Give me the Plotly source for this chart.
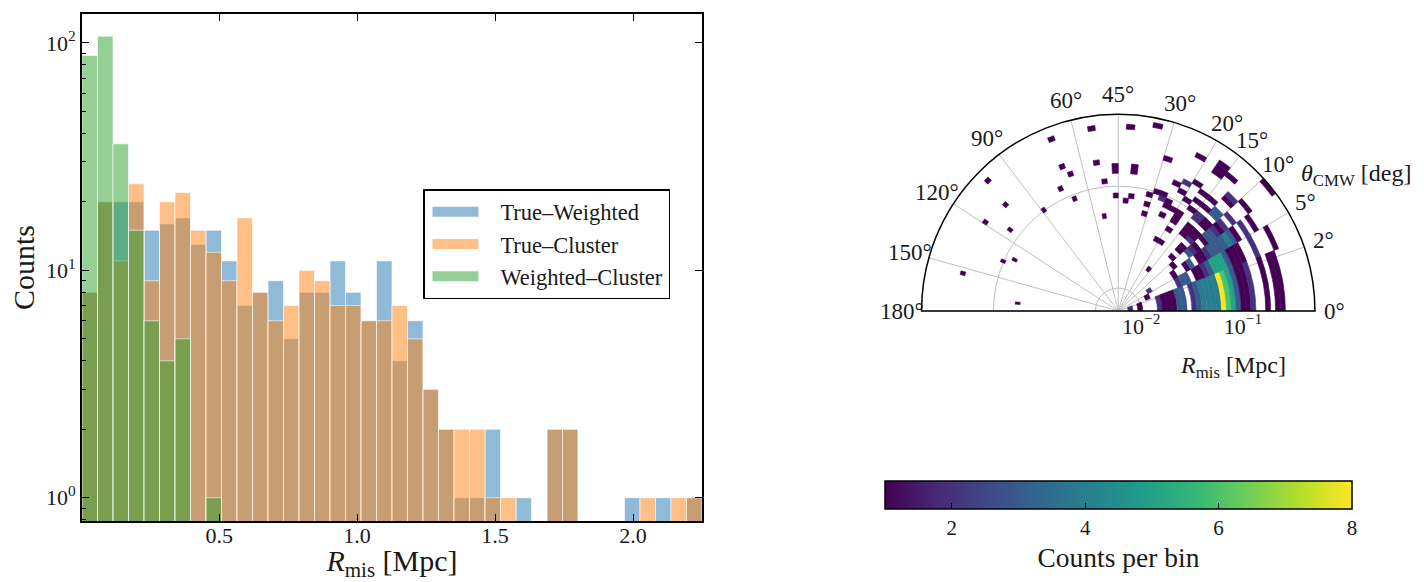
import numpy as np
import plotly.graph_objects as go

# ---------- histogram of miscentring offsets ----------
x_min, x_max, n_hist_bins = 0.003, 2.25, 40
true_weighted = [8,20,20,20,15,16,17,13,15,11,7,8,9,5,8,8,11,8,6,11,4,6,3,2,1,1,2,0,1,0,2,2,0,0,0,1,0,1,0,1]
true_cluster = [8,20,11,24,9,20,22,15,12,9,17,8,6,7,10,9,7,7,6,6,7,5,3,2,2,2,1,1,0,0,2,2,0,0,0,0,1,0,1,1]
weighted_cluster = [88,107,36,15,6,4,5,0,1,0,0,0,0,0,0,0,0,0,0,0,0,0,0,0,0,0,0,0,0,0,0,0,0,0,0,0,0,0,0,0]
series_names = ["True–Weighted", "True–Cluster", "Weighted–Cluster"]
series_colors = ["31,119,180", "255,127,14", "44,160,44"]
x_ticks = [0.5, 1.0, 1.5, 2.0]
y_ticks = [1, 10, 100]
y_tick_text = ["10<sup>0</sup>", "10<sup>1</sup>", "10<sup>2</sup>"]

# ---------- polar 2D histogram: theta bin (2.5 deg), R bin, count ----------
n_theta_bins = 72
n_R_bins = 40
logR_min, logR_max = -2.225, -0.294
theta_ticks = [0, 2, 5, 10, 15, 20, 30, 45, 60, 90, 120, 150, 180]
R_ticks = [0.01, 0.1]
R_tick_text = ["10<sup>−2</sup>", "10<sup>−1</sup>"]

band0_R = [2,4,8,9,10,11,12,13,15,16,17,18,19,20,21,22,23,24,25,26,27,30,32,33]
band0_c = [2,1,2,1,1,1,3,3,2,3,4,4,4,4,8,6,5,3,1,1,2,1,1,1]
band1_R = [6,13,14,15,17,18,19,20,21,22,23,24,25,26,27,30,34]
band1_c = [1,2,3,3,1,1,2,3,5,5,5,3,1,1,1,2,1]
band2_R = [7,13,16,17,19,20,21,22,23,24,25,26,27,28,30,32]
band2_c = [2,1,1,3,1,1,2,3,3,3,3,4,3,1,2,1]
band3_R = [14,18,19,20,22,23,24,25,26,27,29,33,39]
band3_c = [1,3,2,1,1,3,3,2,1,2,2,1,1]
band4_R = [15,17,18,20,21,22,24,25,27,28,31,32]
band4_c = [1,1,1,2,1,1,1,1,3,3,1,2]
band5_R = [20,21,22,24,25,27,29,35]
band5_c = [1,1,1,2,2,1,1,1]
band6_R = [10,25,27,29,34,35,36]
band6_c = [1,1,1,1,1,1,1]
band7_R = [16,19,21,22,23,26,30]
band7_c = [1,1,1,1,1,1,1]
sparse_theta = [8,8,8,8,8,9,9,9,9,10,10,11,11,12,12,12,13,15,15,15,16,16,18,18,18,20,21,21,21,26,27,27,27,29,35,40,41,45,47,52,54,61,68]
sparse_R = [16,23,27,29,35,21,23,24,28,24,25,25,32,20,22,24,38,23,28,29,22,37,23,28,29,26,19,30,37,29,24,31,37,27,25,37,31,27,32,23,25,32,20]
sparse_c = [1,1,1,2,1,1,1,1,1,2,1,1,1,1,1,1,1,1,1,1,1,1,1,1,1,1,1,1,1,1,1,1,1,1,1,1,1,1,1,1,1,1,1]

W, H = 1424, 582
DARK = "#1a1a1a"
SERIF = "Liberation Serif"
POLAR_CX, POLAR_CY, LABEL_R = 1118.3, 311, 216.5

def yf(px):
    return (H - px) / H

def phi(theta):
    return 180 * np.sqrt(np.asarray(theta, float) / 180)

fig = go.Figure()

edges = np.linspace(x_min, x_max, n_hist_bins + 1)
centers = (edges[:-1] + edges[1:]) / 2
for name, vals, rgb in zip(series_names, [true_weighted, true_cluster, weighted_cluster], series_colors):
    fig.add_trace(go.Bar(x=centers, y=[v if v > 0 else None for v in vals], width=edges[1] - edges[0],
                         marker=dict(color=f"rgba({rgb},0.5)", line=dict(color="rgba(255,255,255,0.6)", width=1)),
                         name=name, showlegend=False, xaxis="x", yaxis="y"))
    fig.add_trace(go.Scatter(x=[None], y=[None], mode="lines", name="\u00a0\u00a0\u00a0" + name,
                             line=dict(color=f"rgba({rgb},0.5)", width=15), xaxis="x", yaxis="y"))
# carries the right-hand major ticks (no minor ticks on that side)
fig.add_trace(go.Scatter(x=[None], y=[None], showlegend=False, xaxis="x", yaxis="y2", hoverinfo="skip"))

# polar cells
bands = [(band0_R, band0_c), (band1_R, band1_c), (band2_R, band2_c), (band3_R, band3_c),
         (band4_R, band4_c), (band5_R, band5_c), (band6_R, band6_c), (band7_R, band7_c)]
th_idx, R_idx, cnt = [], [], []
for k, (rs, cs) in enumerate(bands):
    th_idx += [k] * len(rs); R_idx += rs; cnt += cs
th_idx += sparse_theta; R_idx += sparse_R; cnt += sparse_c
th_idx = np.array(th_idx); R_idx = np.array(R_idx)
theta_edges = np.linspace(0, 180, n_theta_bins + 1)
R_edges = 10 ** np.linspace(logR_min, logR_max, n_R_bins + 1)
lo = phi(theta_edges[th_idx]); hi = phi(theta_edges[th_idx + 1])
fig.add_trace(go.Barpolar(
    theta=(lo + hi) / 2, width=hi - lo, base=R_edges[R_idx], r=R_edges[R_idx + 1] - R_edges[R_idx],
    marker=dict(color=cnt, colorscale="Viridis", cmin=1, cmax=8,
                line=dict(width=0.6, color=cnt, colorscale="Viridis", cmin=1, cmax=8),
                colorbar=dict(orientation="h", x=1118.5 / W, xanchor="center", y=yf(481), yanchor="top",
                              len=467, lenmode="pixels", thickness=28, thicknessmode="pixels", xpad=0, ypad=0,
                              outlinecolor="black", outlinewidth=1.5, tickvals=[2, 4, 6, 8], ticks="inside",
                              ticklen=6, tickcolor="black", tickfont=dict(family=SERIF, size=21, color=DARK),
                              title=dict(text="Counts per bin", side="bottom", font=dict(family=SERIF, size=27.5, color=DARK)))),
    showlegend=False, subplot="polar"))

minor_y = [m * 10 ** e for e in range(-1, 3) for m in range(2, 10) if 0.79 < m * 10 ** e < 134]
yrange = [np.log10(0.79), np.log10(134)]
ydomain = [yf(521), yf(14)]

# angular tick labels sit centred on a circle just outside the rim
angle_labels = [
    dict(text=f"{t}°", xref="paper", yref="paper", showarrow=False, xanchor="center", yanchor="middle",
         x=(POLAR_CX + LABEL_R * np.cos(np.radians(phi(t)))) / W,
         y=yf(POLAR_CY - LABEL_R * np.sin(np.radians(phi(t)))),
         font=dict(family=SERIF, size=23, color=DARK))
    for t in theta_ticks
]

fig.update_layout(
    width=W, height=H, autosize=False, margin=dict(l=0, r=0, t=0, b=0, autoexpand=False),
    paper_bgcolor="white", plot_bgcolor="white", barmode="overlay",
    font=dict(family=SERIF, color=DARK),
    xaxis=dict(domain=[82 / W, 702 / W], range=[x_min, x_max], tickvals=x_ticks, ticktext=["0.5", "1.0", "1.5", "2.0"],
               ticklen=7, tickfont=dict(size=22), ticklabelstandoff=-6,
               title=dict(text="<i>R</i><sub>mis</sub> [Mpc]", font=dict(size=30), standoff=18),
               showline=True, linecolor="black", linewidth=2, mirror="ticks", ticks="inside", tickcolor="black",
               showgrid=False, zeroline=False),
    yaxis=dict(domain=ydomain, type="log", range=yrange, tickvals=y_ticks,
               ticktext=y_tick_text, ticklen=7, tickfont=dict(size=22),
               title=dict(text="Counts", font=dict(size=30), standoff=2),
               minor=dict(ticks="inside", ticklen=4, tickcolor="black", tickvals=minor_y),
               showline=True, linecolor="black", linewidth=2, mirror=True, ticks="inside", tickcolor="black",
               showgrid=False, zeroline=False),
    yaxis2=dict(domain=ydomain, type="log", range=yrange, overlaying="y", side="right", anchor="x", tickvals=y_ticks,
                ticks="inside", ticklen=7, tickcolor="black", showticklabels=False, showgrid=False, zeroline=False,
                showline=False),
    legend=dict(x=423 / W, y=yf(189), xanchor="left", yanchor="top", bgcolor="white", bordercolor="black",
                borderwidth=1.5, itemwidth=46, indentation=3, font=dict(family=SERIF, size=22.5, color=DARK), traceorder="normal"),
    polar=dict(domain=dict(x=[921.5 / W, 1315 / W], y=[yf(311), yf(114.3)]), sector=[0, 180], bgcolor="white",
               angularaxis=dict(direction="counterclockwise", rotation=0, thetaunit="degrees",
                                tickmode="array", tickvals=phi(theta_ticks).tolist(), showticklabels=False,
                                ticks="", showline=True, linecolor="black",
                                linewidth=1.5, gridcolor="#c0c0c0", gridwidth=1),
               radialaxis=dict(type="log", range=[logR_min, logR_max], angle=0, side="clockwise", tickangle=0,
                               tickmode="array", tickvals=R_ticks, ticktext=R_tick_text, showline=False, ticks="",
                               gridcolor="#c0c0c0", gridwidth=1, tickfont=dict(family=SERIF, size=22, color=DARK))),
    annotations=angle_labels + [
        dict(text="<i>θ</i><sub>CMW</sub> [deg]", xref="paper", yref="paper", x=1356 / W, y=yf(175), showarrow=False,
             xanchor="center", yanchor="middle", font=dict(family=SERIF, size=24, color=DARK)),
        dict(text="<i>R</i><sub>mis</sub> [Mpc]", xref="paper", yref="paper", x=1233 / W, y=yf(367), showarrow=False,
             xanchor="center", yanchor="middle", font=dict(family=SERIF, size=24, color=DARK)),
    ],
)

fig.write_html("out.html", config={"displayModeBar": False}, post_script="document.body.style.margin='0';")
